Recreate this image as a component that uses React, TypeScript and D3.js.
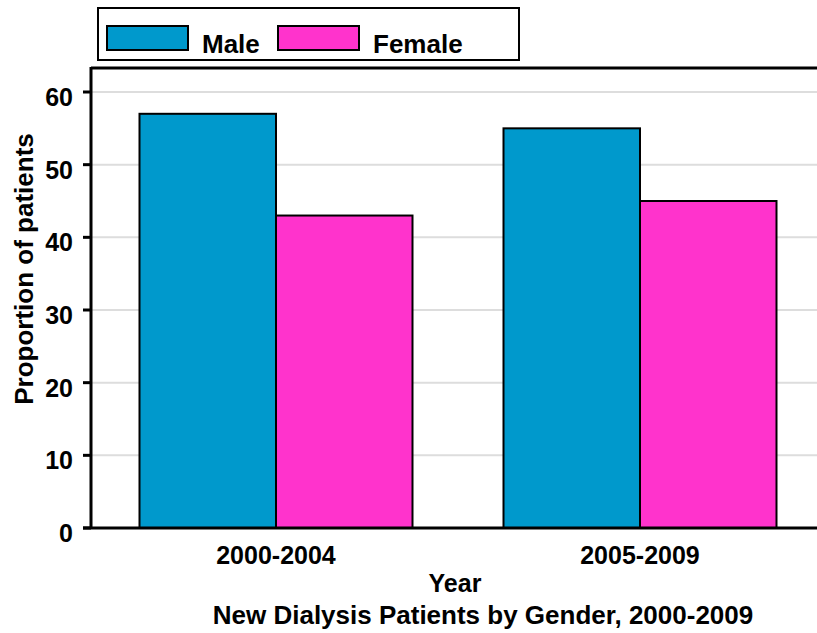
import React, { useEffect, useRef } from 'react'
import * as d3 from 'd3'

const categories = ['2000-2004', '2005-2009']
const seriesNames = ['Male', 'Female']
const maleValues = [57, 55]
const femaleValues = [43, 45]
const yTicks = [0, 10, 20, 30, 40, 50, 60]
const colors = ['#0099cc', '#ff33cc']

const W = 817
const H = 633
const font = 'Arial, "Liberation Sans", sans-serif'

export default function App() {
  const ref = useRef<SVGSVGElement>(null)

  useEffect(() => {
    const svg = d3.select(ref.current)
    svg.selectAll('*').remove()

    const left = 91, top = 68, bottom = 528, right = W
    const y = d3.scaleLinear().domain([0, 60]).range([bottom, 92])
    const x0 = d3.scaleBand().domain(categories).range([94, 822]).paddingInner(0.25).paddingOuter(0.125)
    const x1 = d3.scaleBand().domain(seriesNames).range([0, x0.bandwidth()])

    // gridlines
    svg.append('g').selectAll('line').data(yTicks.filter(d => d > 0)).join('line')
      .attr('x1', left).attr('x2', right)
      .attr('y1', d => y(d)).attr('y2', d => y(d))
      .attr('stroke', '#dddddd').attr('stroke-width', 2)

    // bars
    const rows = categories.map((c, i) => ({ c, vals: [maleValues[i], femaleValues[i]] }))
    const g = svg.append('g').selectAll('g').data(rows).join('g')
      .attr('transform', d => 'translate(' + x0(d.c) + ',0)')
    g.selectAll('rect').data(d => d.vals.map((v, k) => ({ k, v }))).join('rect')
      .attr('x', d => x1(seriesNames[d.k])!)
      .attr('y', d => y(d.v))
      .attr('width', x1.bandwidth())
      .attr('height', d => bottom - y(d.v))
      .attr('fill', d => colors[d.k])
      .attr('stroke', '#000').attr('stroke-width', 2)

    // axes frame
    svg.append('line').attr('x1', left).attr('x2', right).attr('y1', top).attr('y2', top)
      .attr('stroke', '#000').attr('stroke-width', 3)
    svg.append('line').attr('x1', left).attr('x2', left).attr('y1', top - 1).attr('y2', bottom)
      .attr('stroke', '#000').attr('stroke-width', 3)
    svg.append('line').attr('x1', 83).attr('x2', right).attr('y1', bottom).attr('y2', bottom)
      .attr('stroke', '#000').attr('stroke-width', 3)

    // y ticks
    const yt = svg.append('g')
    yt.selectAll('line').data(yTicks).join('line')
      .attr('x1', 83).attr('x2', left).attr('y1', d => y(d)).attr('y2', d => y(d))
      .attr('stroke', '#000').attr('stroke-width', 3)
    yt.selectAll('text').data(yTicks).join('text')
      .attr('x', 73).attr('y', d => y(d) + 14)
      .attr('text-anchor', 'end')
      .style('font', 'bold 25px ' + font)
      .text(d => d)

    // x labels
    svg.append('g').selectAll('text').data(categories).join('text')
      .attr('x', d => x0(d)! + x0.bandwidth() / 2)
      .attr('y', 564)
      .attr('text-anchor', 'middle')
      .style('font', 'bold 25px ' + font)
      .text(d => d)

    svg.append('text').attr('x', 455).attr('y', 592).attr('text-anchor', 'middle')
      .style('font', 'bold 25px ' + font).text('Year')
    svg.append('text').attr('x', 483).attr('y', 624).attr('text-anchor', 'middle')
      .style('font', 'bold 26px ' + font).text('New Dialysis Patients by Gender, 2000-2009')
    svg.append('text').attr('transform', 'translate(33,269) rotate(-90)').attr('text-anchor', 'middle')
      .style('font', 'bold 26px ' + font).text('Proportion of patients')

    // legend
    const lg = svg.append('g')
    lg.append('rect').attr('x', 98).attr('y', 8).attr('width', 421).attr('height', 52)
      .attr('fill', '#fff').attr('stroke', '#000').attr('stroke-width', 2)
    const lx = [107, 278]
    seriesNames.forEach((s, i) => {
      lg.append('rect').attr('x', lx[i]).attr('y', 26).attr('width', 81).attr('height', 24)
        .attr('fill', colors[i]).attr('stroke', '#000').attr('stroke-width', 2)
      lg.append('text').attr('x', lx[i] + 95).attr('y', 53)
        .style('font', 'bold 26px ' + font).text(s)
    })
  }, [])

  return <svg ref={ref} width={W} height={H} style={{ position: 'absolute', left: 0, top: 0, background: '#fff' }} />
}
